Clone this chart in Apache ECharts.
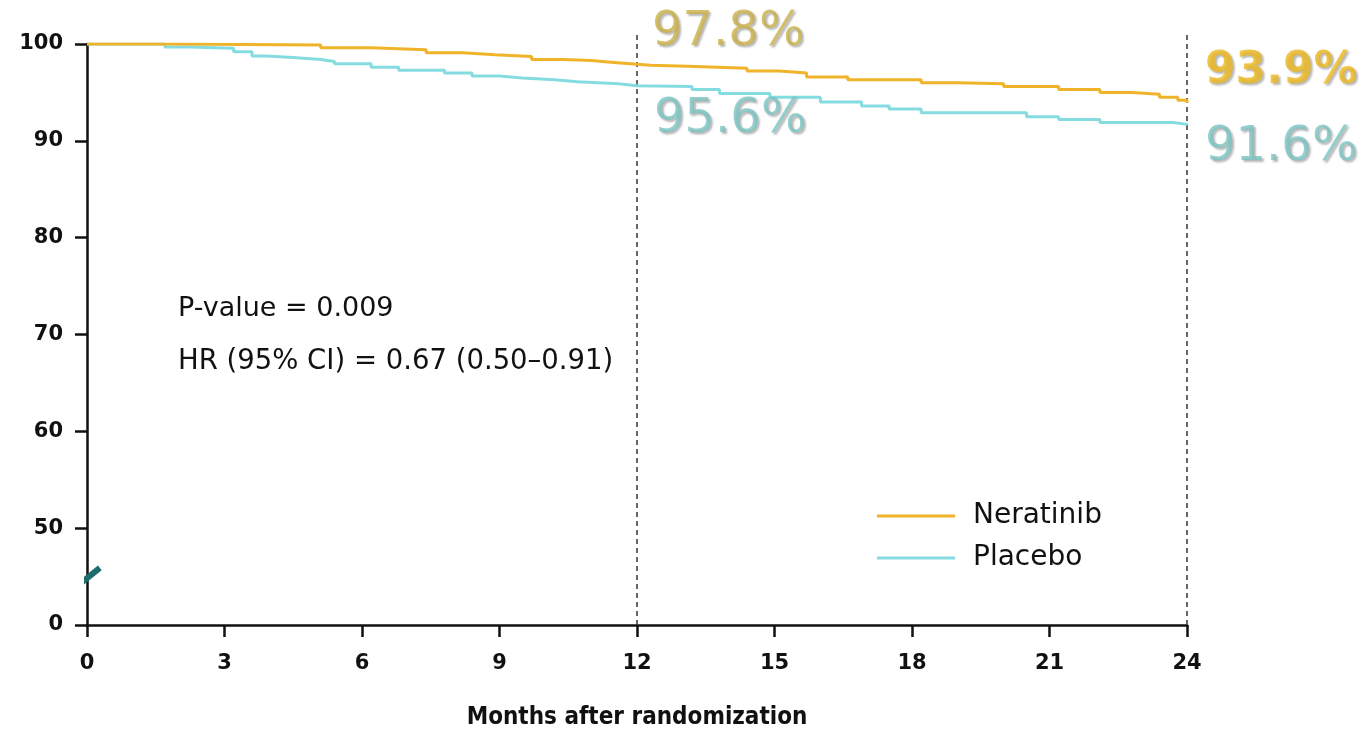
<!DOCTYPE html>
<html>
<head>
<meta charset="utf-8">
<title>Kaplan-Meier: Neratinib vs Placebo</title>
<script src="https://cdn.jsdelivr.net/npm/echarts@6/dist/echarts.min.js"></script>
<style>
  html, body { margin: 0; padding: 0; background: #ffffff; }
  #chart { width: 1363px; height: 735px; }
</style>
</head>
<body>
<div id="chart"></div>
<script>
// Kaplan-Meier step data: [month, survival %], value applies from that month on
const neratinibCurve = [
  [0, 100], [1.7, 99.9], [5.1, 99.6], [6.2, 99.4], [7.4, 99.1], [8.2, 98.9],
  [8.9, 98.7], [9.7, 98.4], [10.4, 98.3], [11.0, 98.1], [11.5, 97.9], [12, 97.8],
  [12.3, 97.7], [13.1, 97.5], [14.4, 97.2], [15.1, 97.0], [15.7, 96.6], [16.6, 96.3],
  [18.2, 96.0], [19.0, 95.9], [20.0, 95.6], [21.2, 95.3], [22.1, 95.0], [22.8, 94.8],
  [23.4, 94.5], [23.8, 94.2], [24, 93.9]
];
const placeboCurve = [
  [0, 100], [1.7, 99.7], [2.25, 99.55], [3.2, 99.2], [3.6, 98.75], [3.9, 98.6],
  [4.5, 98.4], [5.1, 98.2], [5.4, 97.95], [6.2, 97.6], [6.8, 97.3], [7.8, 97.0],
  [8.4, 96.7], [9.0, 96.5], [9.5, 96.3], [10.2, 96.1], [10.7, 95.9], [11.6, 95.7],
  [12, 95.6], [13.2, 95.3], [13.8, 94.9], [14.9, 94.5], [16.0, 94.0], [16.9, 93.6],
  [17.5, 93.3], [18.2, 92.9], [20.5, 92.5], [21.2, 92.2], [22.1, 91.9], [23.7, 91.7],
  [24, 91.6]
];

// Landmark estimates printed next to the curves
const landmarkMonths = [12, 24];
const neratinibLandmarks = [97.8, 93.9];
const placeboLandmarks = [95.6, 91.6];

const seriesNames = ['Neratinib', 'Placebo'];
const xTicks = [0, 3, 6, 9, 12, 15, 18, 21, 24];
// The y axis is broken below 50: the bottom tick stands for 0
const yTicks = [40, 50, 60, 70, 80, 90, 100];
const yTickLabels = ['0', '50', '60', '70', '80', '90', '100'];

const annotationLines = ['P-value = 0.009', 'HR (95% CI) = 0.67 (0.50\u20130.91)'];
const xAxisTitle = 'Months after randomization';

// Reference lines at the landmarks (bottom of axis to just above 100)
const guideTop = 101.1;
const guideBottom = 40;
// Axis break marker across the y axis
const breakMark = [[-0.22, 44.0], [0.28, 45.9]];

const COLORS = {
  neratinib: '#F0B42A',
  placebo: '#84DCE0',
  ner12: '#CBB04A',
  ner24: '#EDB81F',
  pla: '#7CC4C2',
  breakMark: '#1F6C6C',
  axis: '#111111'
};

const chart = echarts.init(document.getElementById('chart'), null, { renderer: 'canvas' });

const txt = "'DejaVu Sans', 'Liberation Sans', Arial, sans-serif";

function landmarkLabel(month, value, color, bold, dx, dy, size) {
  return {
    value: [month, value],
    label: {
      show: true,
      formatter: value.toFixed(1) + '%',
      position: 'right',
      distance: dx,
      offset: [0, dy],
      color: color,
      fontFamily: txt,
      fontSize: size,
      fontWeight: bold ? 'bold' : 'normal',
      textShadowColor: 'rgba(60,60,60,0.45)',
      textShadowBlur: 2,
      textShadowOffsetX: 2,
      textShadowOffsetY: 2
    }
  };
}

const option = {
  animation: false,
  backgroundColor: '#ffffff',
  grid: {
    left: 87, right: 176, top: 44, bottom: 110,
    containLabel: false,
    outerBoundsMode: 'none'
  },
  legend: {
    data: seriesNames,
    orient: 'vertical',
    left: 872,
    top: 497,
    icon: 'rect',
    itemWidth: 78,
    itemHeight: 3,
    itemGap: 14,
    textStyle: {
      fontFamily: txt,
      fontSize: 28,
      color: '#111',
      padding: [0, 0, 0, 13]
    }
  },
  xAxis: {
    type: 'value',
    min: 0,
    max: 24,
    interval: 3,
    name: xAxisTitle,
    nameLocation: 'middle',
    nameGap: 81,
    nameTextStyle: {
      fontFamily: "'DejaVu Sans Condensed', 'DejaVu Sans', sans-serif",
      fontWeight: 'bold',
      fontSize: 24,
      color: '#111'
    },
    axisLine: { show: true, lineStyle: { color: COLORS.axis, width: 2.5 } },
    axisTick: { show: true, length: 12, lineStyle: { color: COLORS.axis, width: 2.5 } },
    axisLabel: {
      margin: 28,
      fontFamily: txt,
      fontWeight: 'bold',
      fontSize: 21,
      color: '#111',
      customValues: xTicks
    },
    splitLine: { show: false }
  },
  yAxis: {
    type: 'value',
    min: 40,
    max: 100,
    interval: 10,
    axisLine: { show: true, lineStyle: { color: COLORS.axis, width: 2.5 } },
    axisTick: { show: true, length: 12, lineStyle: { color: COLORS.axis, width: 2.5 } },
    axisLabel: {
      margin: 24,
      fontFamily: txt,
      fontWeight: 'bold',
      fontSize: 21,
      color: '#111',
      formatter: function (v) {
        const i = yTicks.indexOf(v);
        return i >= 0 ? yTickLabels[i] : '';
      }
    },
    splitLine: { show: false }
  },
  series: [
    {
      name: 'Neratinib',
      type: 'line',
      step: 'end',
      data: neratinibCurve,
      showSymbol: false,
      symbol: 'none',
      z: 4,
      lineStyle: { color: COLORS.neratinib, width: 3 },
      itemStyle: { color: COLORS.neratinib }
    },
    {
      name: 'Placebo',
      type: 'line',
      step: 'end',
      data: placeboCurve,
      showSymbol: false,
      symbol: 'none',
      z: 3,
      lineStyle: { color: COLORS.placebo, width: 3 },
      itemStyle: { color: COLORS.placebo }
    },
    // dashed landmark guides
    {
      name: 'guide12',
      type: 'line',
      data: [[landmarkMonths[0], guideBottom], [landmarkMonths[0], guideTop]],
      symbol: 'none',
      clip: false,
      silent: true,
      z: 2,
      lineStyle: { color: '#333', width: 1.5, type: [5, 4] }
    },
    {
      name: 'guide24',
      type: 'line',
      data: [[landmarkMonths[1], guideBottom], [landmarkMonths[1], guideTop]],
      symbol: 'none',
      clip: false,
      silent: true,
      z: 2,
      lineStyle: { color: '#333', width: 1.5, type: [5, 4] }
    },
    // y-axis break marker
    {
      name: 'axisBreak',
      type: 'line',
      data: breakMark,
      symbol: 'none',
      clip: false,
      silent: true,
      z: 6,
      lineStyle: { color: COLORS.breakMark, width: 6, cap: 'butt' }
    },
    // landmark value labels
    {
      name: 'landmarks',
      type: 'scatter',
      symbolSize: 0,
      silent: true,
      z: 7,
      data: [
        landmarkLabel(landmarkMonths[0], neratinibLandmarks[0], COLORS.ner12, false, 15, -33, 48),
        landmarkLabel(landmarkMonths[0], placeboLandmarks[0], COLORS.pla, false, 17, 33, 48),
        landmarkLabel(landmarkMonths[1], neratinibLandmarks[1], COLORS.ner24, true, 18, -32, 44),
        landmarkLabel(landmarkMonths[1], placeboLandmarks[1], COLORS.pla, false, 18, 22, 48)
      ]
    }
  ],
  graphic: [
    {
      type: 'text',
      left: 178,
      top: 295,
      style: { text: annotationLines[0], font: "27px " + txt, fill: '#111' }
    },
    {
      type: 'text',
      left: 178,
      top: 348,
      style: { text: annotationLines[1], font: "27.5px " + txt, fill: '#111' }
    }
  ]
};

chart.setOption(option);
</script>
</body>
</html>
